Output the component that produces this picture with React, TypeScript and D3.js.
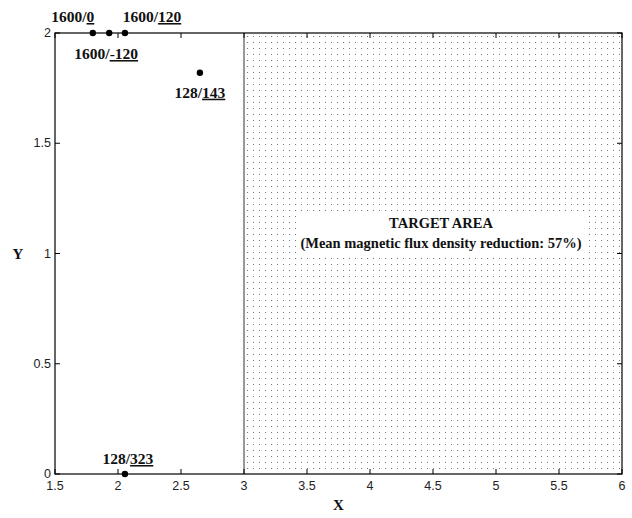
import React from "react";
import * as d3 from "d3";

const xTicks = [1.5, 2, 2.5, 3, 3.5, 4, 4.5, 5, 5.5, 6];
const yTicks = [0, 0.5, 1, 1.5, 2];
const pointNames = ["1600/0", "1600/-120", "1600/120", "128/143", "128/323"];
const pointX = [1.8, 1.93, 2.055, 2.65, 2.055];
const pointY = [2, 2, 2, 1.82, 0];
const labelPrefix = ["1600/", "1600/", "1600/", "128/", "128/"];
const labelSuffix = ["0", "-120", "120", "143", "323"];
const labelDx = [-20, -3, 27, 0, 3];
const labelDy = [-11, 26, -11, 25, -10];
const targetStart = 3;
const targetEnd = 6;

const W = 632, H = 518;
const M = { left: 55, right: 10, top: 33, bottom: 44 };

export default function App() {
  const x = d3.scaleLinear().domain([1.5, 6]).range([M.left, W - M.right]);
  const y = d3.scaleLinear().domain([0, 2]).range([H - M.bottom, M.top]);
  const x0 = x.range()[0], x1 = x.range()[1];
  const y0 = y.range()[0], y1 = y.range()[1];
  const serif = "'Liberation Serif', 'Times New Roman', serif";
  const sans = "'Liberation Sans', Arial, sans-serif";
  const tickLen = 5;
  const cx = x(4.5) + 8;
  return (
    <svg width={W} height={H} style={{ position: "absolute", left: 0, top: 0, background: "#fff" }}>
      <defs>
        <pattern id="dots" x={Math.round(x(targetStart)) + 3} y={Math.round(y1) + 3} width={6} height={6} patternUnits="userSpaceOnUse">
          <rect x={0} y={0} width={1} height={1} fill="#777" shapeRendering="crispEdges" />
        </pattern>
      </defs>
      <rect x={0} y={0} width={W} height={H} fill="#fff" />
      <rect x={x(targetStart)} y={y1} width={x(targetEnd) - x(targetStart)} height={y0 - y1} fill="url(#dots)" />
      <line x1={x(targetStart)} x2={x(targetStart)} y1={y1} y2={y0} stroke="#555" strokeWidth={1.2} />
      <rect x={cx - 140} y={211} width={283} height={42} fill="#fff" />
      <text x={cx} y={228} textAnchor="middle" fontFamily={serif} fontWeight="bold" fontSize={14.5} fill="#111">TARGET AREA</text>
      <text x={cx} y={248} textAnchor="middle" fontFamily={serif} fontWeight="bold" fontSize={14.5} fill="#111">(Mean magnetic flux density reduction: 57%)</text>
      <rect x={x0} y={y1} width={x1 - x0} height={y0 - y1} fill="none" stroke="#000" strokeWidth={1.2} />
      {xTicks.map((t) => (
        <g key={"x" + t}>
          <line x1={x(t)} x2={x(t)} y1={y0} y2={y0 - tickLen} stroke="#000" />
          <line x1={x(t)} x2={x(t)} y1={y1} y2={y1 + tickLen} stroke="#000" />
          <text x={x(t)} y={y0 + 16} textAnchor="middle" fontFamily={sans} fontSize={12.5} fill="#222">{String(t)}</text>
        </g>
      ))}
      {yTicks.map((t) => (
        <g key={"y" + t}>
          <line x1={x0} x2={x0 + tickLen} y1={y(t)} y2={y(t)} stroke="#000" />
          <line x1={x1} x2={x1 - tickLen} y1={y(t)} y2={y(t)} stroke="#000" />
          <text x={x0 - 4} y={y(t) + 4} textAnchor="end" fontFamily={sans} fontSize={12.5} fill="#222">{String(t)}</text>
        </g>
      ))}
      <text x={(x0 + x1) / 2} y={H - 8} textAnchor="middle" fontFamily={serif} fontWeight="bold" fontSize={15} fill="#111">X</text>
      <text x={18} y={(y0 + y1) / 2 + 5} textAnchor="middle" fontFamily={serif} fontWeight="bold" fontSize={15} fill="#111">Y</text>
      {pointNames.map((n, i) => (
        <g key={n}>
          <circle cx={x(pointX[i])} cy={y(pointY[i])} r={3.2} fill="#000" />
          <text x={x(pointX[i]) + labelDx[i]} y={y(pointY[i]) + labelDy[i]} textAnchor="middle" fontFamily={serif} fontWeight="bold" fontSize={15.5} fill="#111">
            <tspan>{labelPrefix[i]}</tspan>
            <tspan textDecoration="underline">{labelSuffix[i]}</tspan>
          </text>
        </g>
      ))}
    </svg>
  );
}
